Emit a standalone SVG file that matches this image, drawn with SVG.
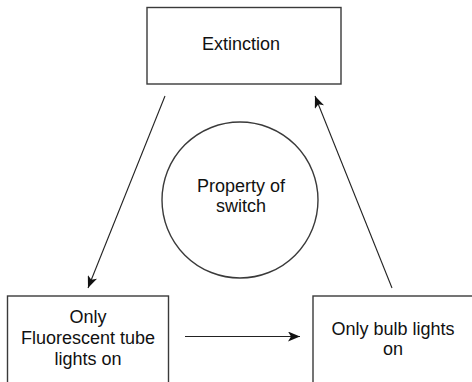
<svg xmlns="http://www.w3.org/2000/svg" width="472" height="382" viewBox="0 0 472 382">
  <style>
    .box { fill: #ffffff; stroke: #3a3a3a; stroke-width: 1.4; }
    .lbl { font-family: "Liberation Sans", Arial, sans-serif; font-size: 18px; fill: #111111; text-anchor: middle; }
    .conn { stroke: #222222; stroke-width: 1.1; fill: none; marker-end: url(#arrow); }
  </style>
  <defs>
    <marker id="arrow" viewBox="0 0 12 10" refX="12" refY="5" markerWidth="12" markerHeight="10" markerUnits="userSpaceOnUse" orient="auto">
      <path d="M0,0 L12,5 L0,10 L3,5 z" fill="#111111"/>
    </marker>
  </defs>
  <rect width="472" height="382" fill="#ffffff"/>
  <g id="extinction">
    <rect class="box" x="147" y="7.5" width="194" height="76.5"/>
    <text class="lbl" x="241" y="50">Extinction</text>
  </g>
  <g id="property">
    <circle class="box" cx="240" cy="200" r="78"/>
    <text class="lbl" x="241" y="192">Property of</text>
    <text class="lbl" x="241" y="212">switch</text>
  </g>
  <g id="fluorescent">
    <rect class="box" x="7.5" y="296" width="161" height="100"/>
    <text class="lbl" x="88" y="323">Only</text>
    <text class="lbl" x="88" y="344">Fluorescent tube</text>
    <text class="lbl" x="88" y="365">lights on</text>
  </g>
  <g id="bulb">
    <rect class="box" x="313" y="296" width="170" height="100"/>
    <text class="lbl" x="393" y="335">Only bulb lights</text>
    <text class="lbl" x="393" y="355">on</text>
  </g>
  <g id="connectors">
    <line class="conn" x1="165" y1="96" x2="88" y2="288"/>
    <line class="conn" x1="185" y1="336.5" x2="300" y2="336.5"/>
    <line class="conn" x1="392" y1="288" x2="315" y2="96"/>
  </g>
</svg>
